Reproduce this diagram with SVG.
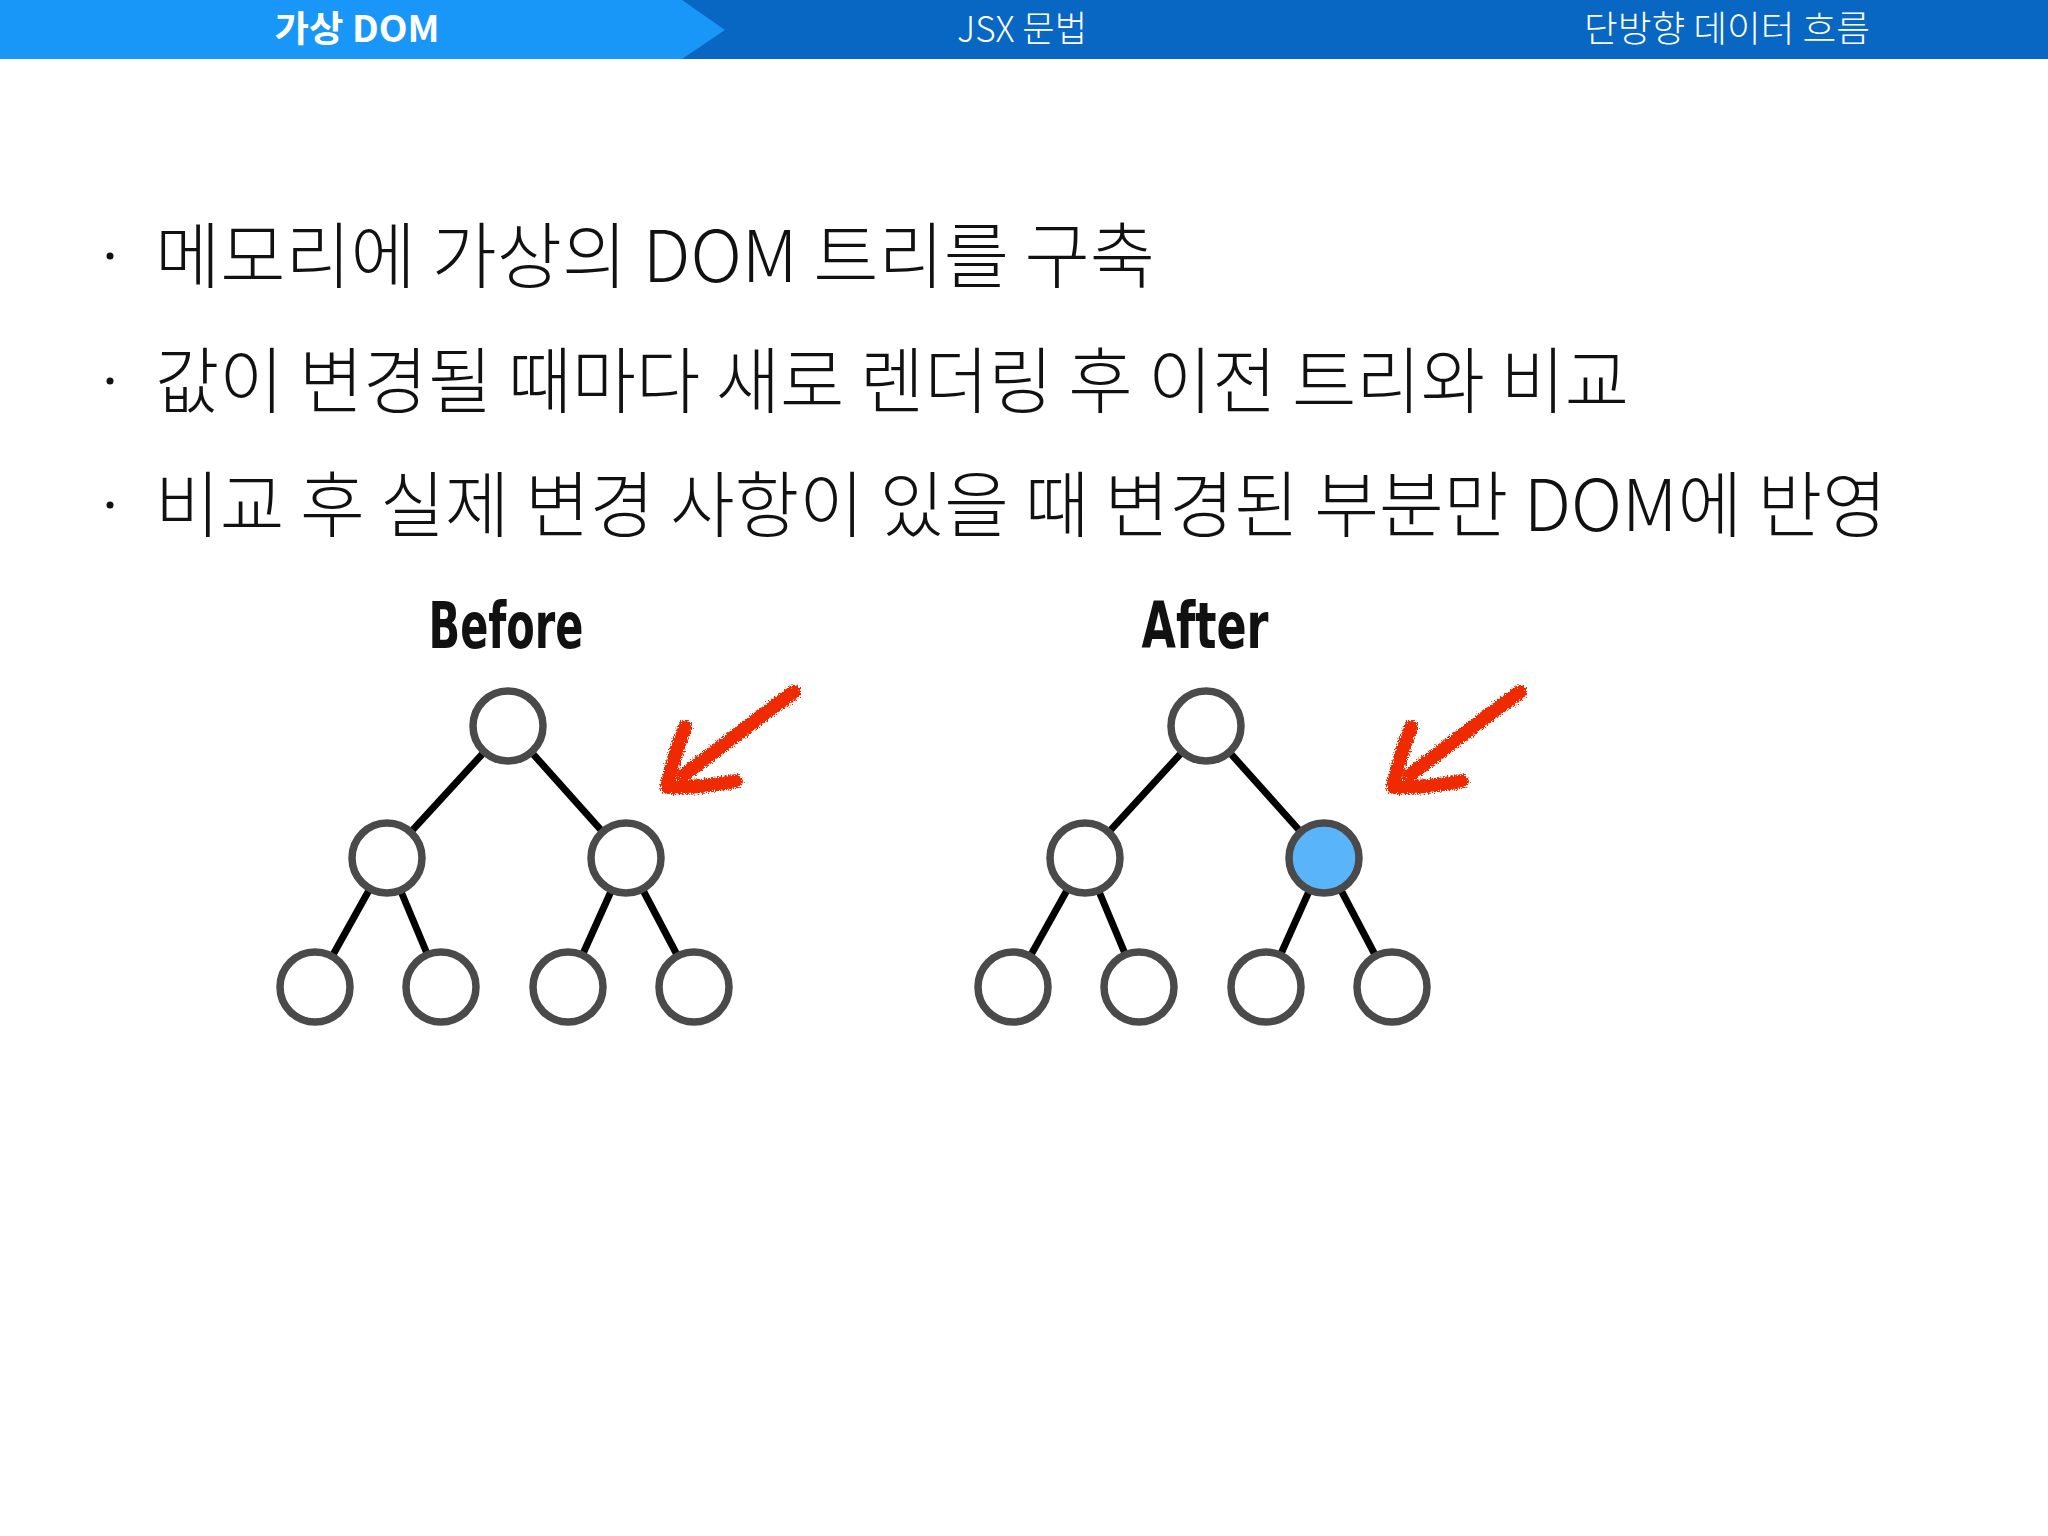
<svg xmlns="http://www.w3.org/2000/svg" width="2048" height="1536" viewBox="0 0 2048 1536">
<style>
.tab{font-family:"Noto Sans CJK KR","Noto Sans",sans-serif;fill:#ffffff;font-size:36px;text-anchor:middle}
.tab-on{font-weight:700}
.tab-off{font-weight:300}
.body{font-family:"Noto Sans CJK KR","Noto Sans",sans-serif;font-weight:300;font-size:72px;fill:#111111}
.lbl{font-family:"Liberation Sans Narrow","DejaVu Sans Condensed","Liberation Sans",sans-serif;font-weight:700;font-size:64px;fill:#111111;text-anchor:middle}
.node{fill:#ffffff;stroke:#4a4a4a;stroke-width:7.5}
.node.hot{fill:#5ab4fa}
.edge{stroke:#000000;stroke-width:7;fill:none}
.arrow{stroke:#f02a06;stroke-width:14;fill:none;stroke-linecap:round;stroke-linejoin:round;filter:url(#crayon)}
</style>
<defs>
<filter id="crayon" x="-20%" y="-20%" width="140%" height="140%">
<feTurbulence type="fractalNoise" baseFrequency="0.7" numOctaves="2" seed="4" result="n"/>
<feDisplacementMap in="SourceGraphic" in2="n" scale="8" xChannelSelector="R" yChannelSelector="G"/>
</filter>
</defs>
<rect x="0" y="0" width="2048" height="1536" fill="#ffffff"/>

<g id="header">
<rect x="0" y="0" width="2048" height="59" fill="#0767c3"/>
<polygon points="0,0 682,0 725,30 682,59 0,59" fill="#1997f8"/>
<text class="tab tab-on" x="357" y="42" textLength="165" lengthAdjust="spacingAndGlyphs">가상 DOM</text>
<text class="tab tab-off" x="1022" y="42" textLength="130" lengthAdjust="spacingAndGlyphs">JSX 문법</text>
<text class="tab tab-off" x="1727" y="42" textLength="286" lengthAdjust="spacingAndGlyphs">단방향 데이터 흐름</text>
</g>

<g id="bullets">
<circle cx="110" cy="256" r="3.5" fill="#111"/>
<text class="body" x="155" y="282" textLength="1000" lengthAdjust="spacingAndGlyphs">메모리에 가상의 DOM 트리를 구축</text>
<circle cx="110" cy="381" r="3.5" fill="#111"/>
<text class="body" x="155" y="407" textLength="1474" lengthAdjust="spacingAndGlyphs">값이 변경될 때마다 새로 렌더링 후 이전 트리와 비교</text>
<circle cx="110" cy="505" r="3.5" fill="#111"/>
<text class="body" x="155" y="531" textLength="1732" lengthAdjust="spacingAndGlyphs">비교 후 실제 변경 사항이 있을 때 변경된 부분만 DOM에 반영</text>
</g>

<g id="label-before"><text class="lbl" x="506" y="648" textLength="155" lengthAdjust="spacingAndGlyphs">Before</text></g>
<g id="label-after"><text class="lbl" x="1205" y="648" textLength="127" lengthAdjust="spacingAndGlyphs">After</text></g>

<g id="connectors">
<line class="edge" x1="508" y1="726" x2="387" y2="858"/>
<line class="edge" x1="508" y1="726" x2="626" y2="858"/>
<line class="edge" x1="387" y1="858" x2="315" y2="987"/>
<line class="edge" x1="387" y1="858" x2="441" y2="987"/>
<line class="edge" x1="626" y1="858" x2="568" y2="987"/>
<line class="edge" x1="626" y1="858" x2="694" y2="987"/>
<line class="edge" x1="1206" y1="726" x2="1085" y2="858"/>
<line class="edge" x1="1206" y1="726" x2="1324" y2="858"/>
<line class="edge" x1="1085" y1="858" x2="1013" y2="987"/>
<line class="edge" x1="1085" y1="858" x2="1139" y2="987"/>
<line class="edge" x1="1324" y1="858" x2="1266" y2="987"/>
<line class="edge" x1="1324" y1="858" x2="1392" y2="987"/>
</g>

<g id="before-root"><circle class="node" cx="508" cy="726" r="35"/></g>
<g id="before-left"><circle class="node" cx="387" cy="858" r="35"/></g>
<g id="before-right"><circle class="node" cx="626" cy="858" r="35"/></g>
<g id="before-leaf1"><circle class="node" cx="315" cy="987" r="35"/></g>
<g id="before-leaf2"><circle class="node" cx="441" cy="987" r="35"/></g>
<g id="before-leaf3"><circle class="node" cx="568" cy="987" r="35"/></g>
<g id="before-leaf4"><circle class="node" cx="694" cy="987" r="35"/></g>

<g id="after-root"><circle class="node" cx="1206" cy="726" r="35"/></g>
<g id="after-left"><circle class="node" cx="1085" cy="858" r="35"/></g>
<g id="after-right"><circle class="node hot" cx="1324" cy="858" r="35"/></g>
<g id="after-leaf1"><circle class="node" cx="1013" cy="987" r="35"/></g>
<g id="after-leaf2"><circle class="node" cx="1139" cy="987" r="35"/></g>
<g id="after-leaf3"><circle class="node" cx="1266" cy="987" r="35"/></g>
<g id="after-leaf4"><circle class="node" cx="1392" cy="987" r="35"/></g>

<g id="arrow-before">
<path class="arrow" d="M794,692 Q742,730 684,775"/>
<path class="arrow" d="M685,727 Q673,758 667,787 Q702,788 736,781"/>
</g>
<g id="arrow-after" transform="translate(726,0)">
<path class="arrow" d="M794,692 Q742,730 684,775"/>
<path class="arrow" d="M685,727 Q673,758 667,787 Q702,788 736,781"/>
</g>
</svg>
